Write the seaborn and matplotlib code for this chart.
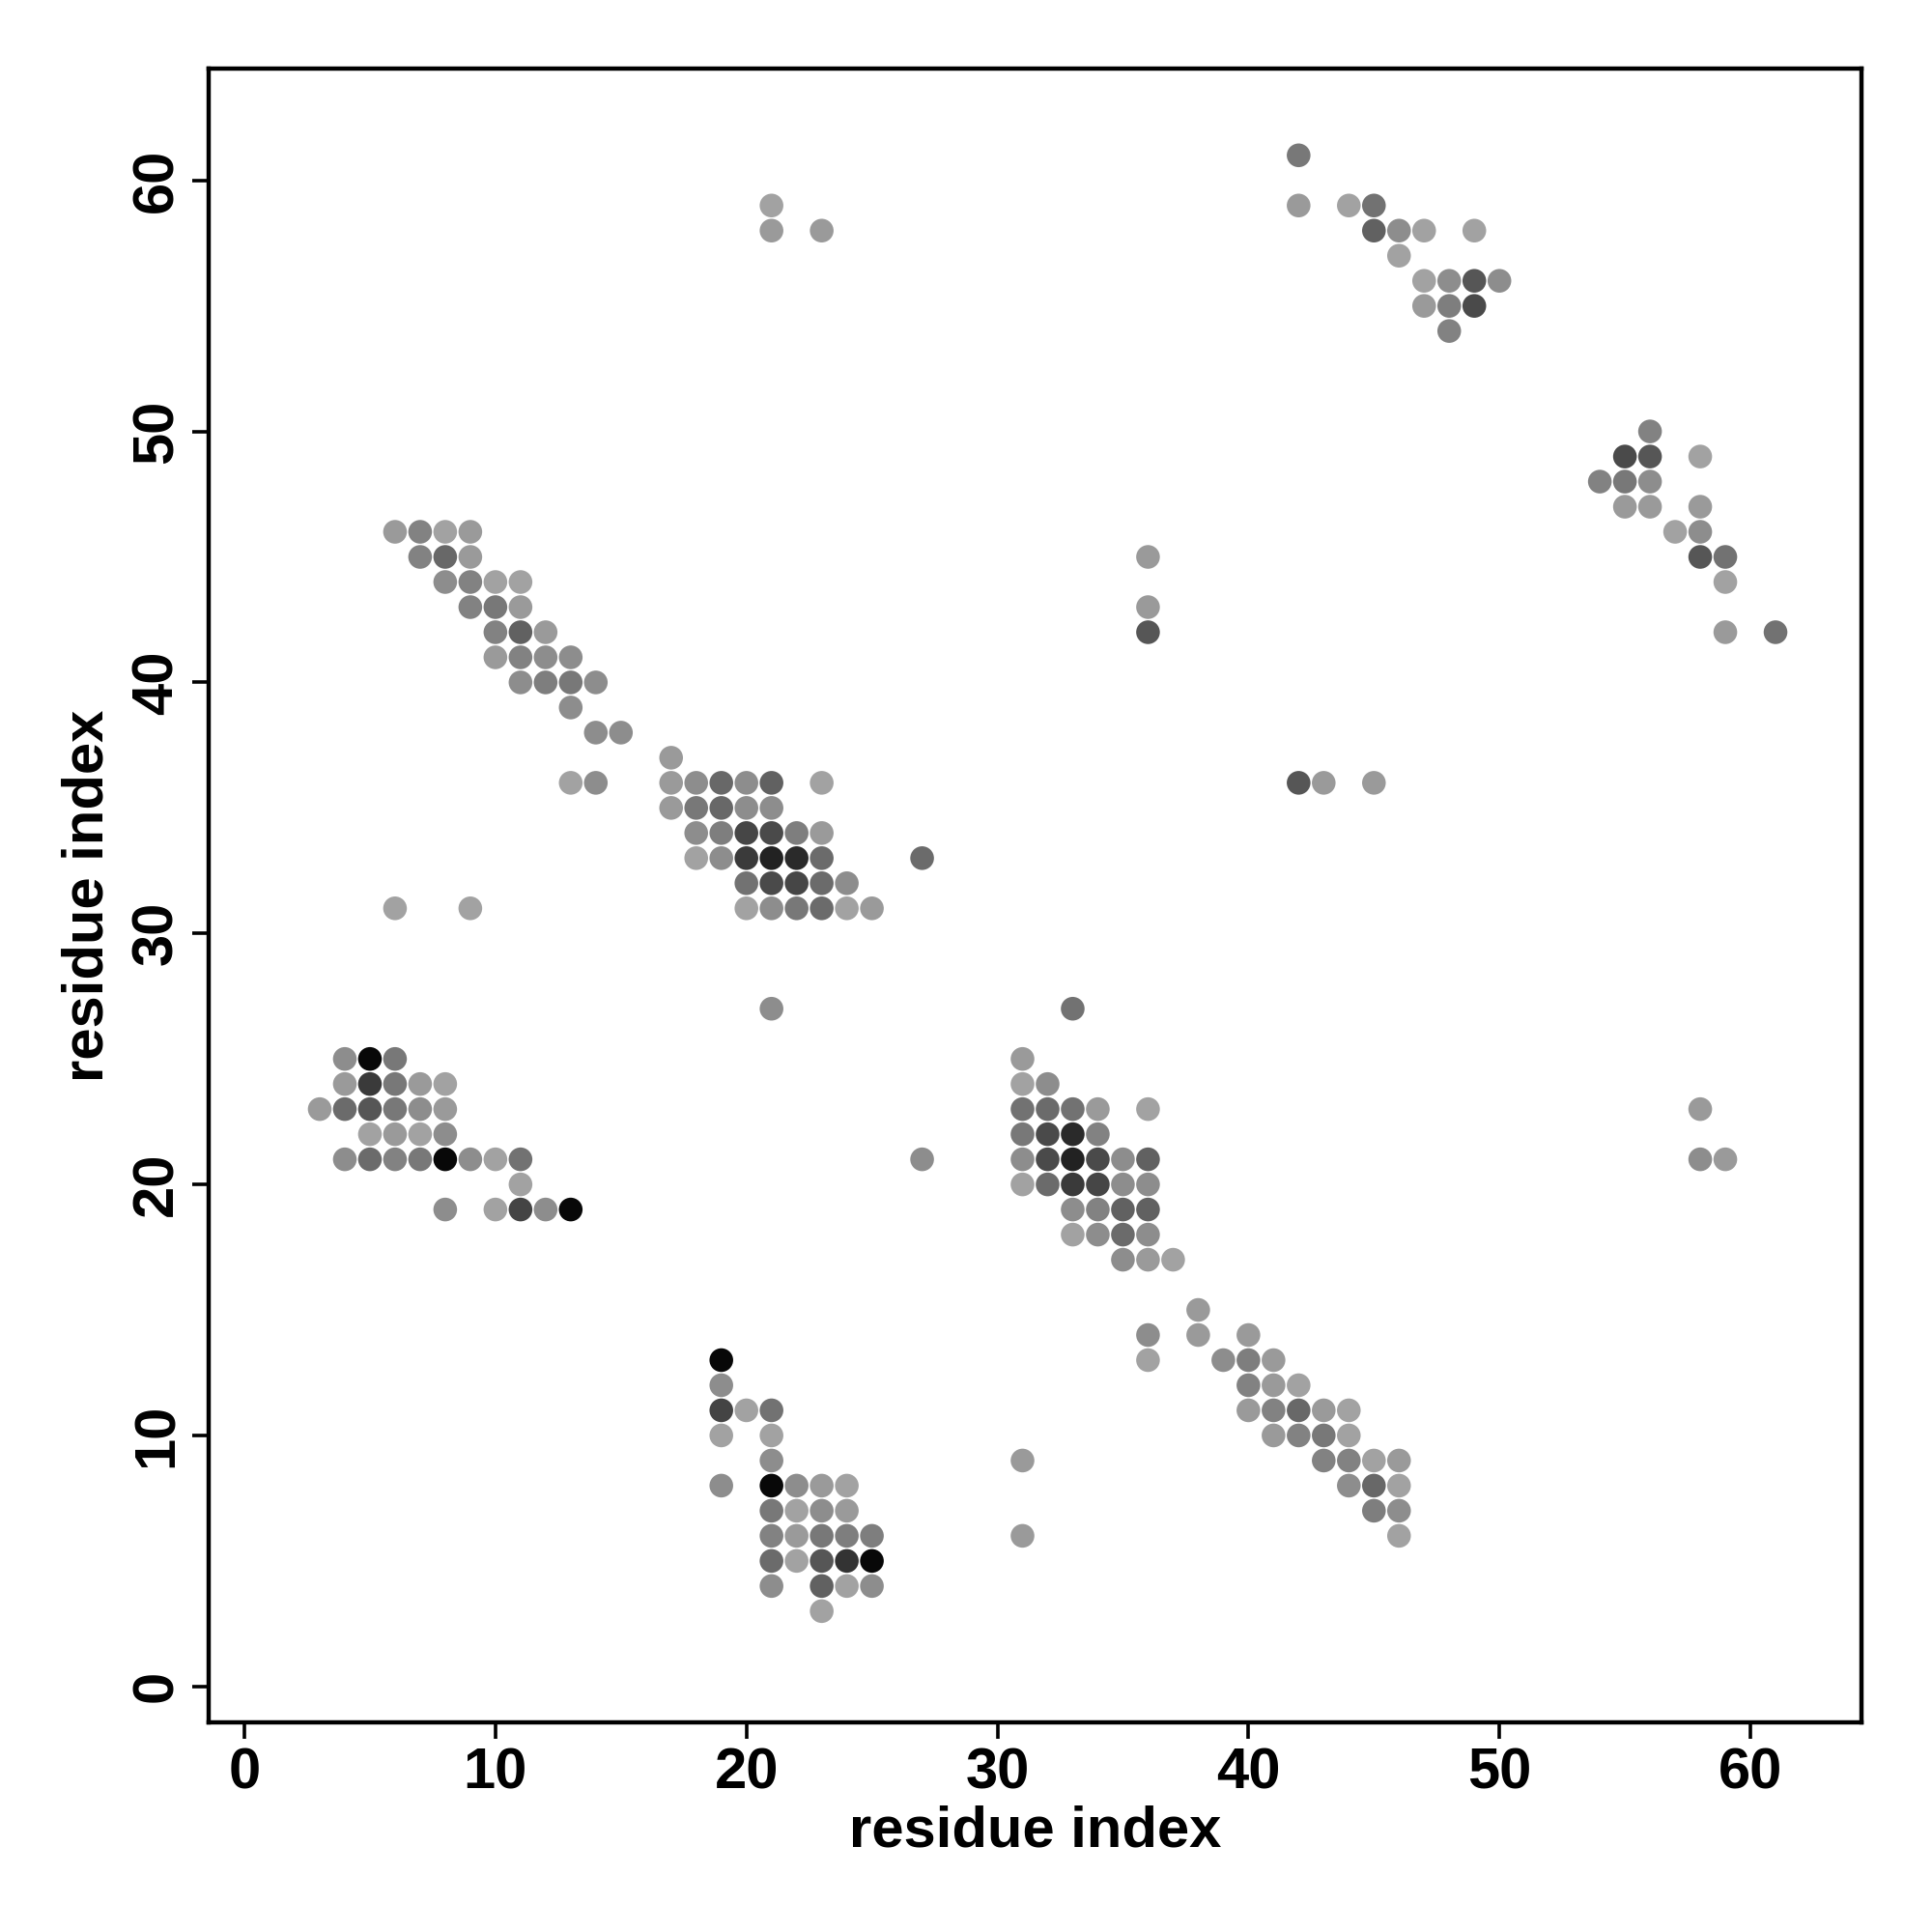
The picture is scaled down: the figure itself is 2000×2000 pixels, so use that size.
import numpy as np
import pandas as pd
import matplotlib
matplotlib.use('Agg')
import matplotlib.pyplot as plt
from matplotlib.colors import LinearSegmentedColormap
import seaborn as sns

# residue pairs (i on x, j on y) and contact probability (grey level)
res_i = [
    # block near (6, 22)
    4, 5, 6, 4, 5, 6, 7, 8, 3, 4, 5, 6, 7, 8, 5, 6, 7, 8,
    4, 5, 6, 7, 8, 9, 10, 11, 11, 8, 10, 11, 12, 13,
    # block near (22, 7)
    19, 19, 19, 20, 21, 19, 21, 21, 19, 21, 22, 23, 24, 21, 22, 23, 24,
    21, 22, 23, 24, 25, 21, 22, 23, 24, 25, 21, 23, 24, 25, 23,
    # block near (10, 42)
    6, 7, 8, 9, 7, 8, 9, 8, 9, 10, 11, 9, 10, 11, 10, 11, 12,
    10, 11, 12, 13, 11, 12, 13, 14, 13, 14, 15, 13, 14,
    # block near (21, 33)
    17, 17, 18, 19, 20, 21, 23, 17, 18, 19, 20, 21, 18, 19, 20, 21, 22, 23,
    18, 19, 20, 21, 22, 23, 27, 20, 21, 22, 23, 24, 20, 21, 22, 23, 24, 25, 21,
    # block near (33, 21)
    33, 31, 31, 32, 31, 32, 33, 34, 36, 31, 32, 33, 34,
    31, 32, 33, 34, 35, 36, 31, 32, 33, 34, 35, 36,
    33, 34, 35, 36, 33, 34, 35, 36, 35, 36, 37,
    # block near (42, 11)
    38, 36, 38, 40, 36, 39, 40, 41, 40, 41, 42, 40, 41, 42, 43, 44,
    41, 42, 43, 44, 43, 44, 45, 46, 44, 45, 46, 45, 46, 46,
    # block near (47, 57)
    42, 42, 44, 45, 45, 46, 47, 49, 46, 47, 48, 49, 50, 47, 48, 49, 48,
    # block near (57, 46)
    56, 55, 56, 58, 54, 55, 56, 55, 56, 58, 57, 58, 58, 59, 59, 59, 61,
    # isolated contacts
    21, 21, 23, 36, 36, 36, 42, 43, 45, 6, 9, 27, 58, 58, 59, 31, 31,
]
res_j = [
    25, 25, 25, 24, 24, 24, 24, 24, 23, 23, 23, 23, 23, 23, 22, 22, 22, 22,
    21, 21, 21, 21, 21, 21, 21, 21, 20, 19, 19, 19, 19, 19,
    13, 12, 11, 11, 11, 10, 10, 9, 8, 8, 8, 8, 8, 7, 7, 7, 7,
    6, 6, 6, 6, 6, 5, 5, 5, 5, 5, 4, 4, 4, 4, 3,
    46, 46, 46, 46, 45, 45, 45, 44, 44, 44, 44, 43, 43, 43, 42, 42, 42,
    41, 41, 41, 41, 40, 40, 40, 40, 39, 38, 38, 36, 36,
    37, 36, 36, 36, 36, 36, 36, 35, 35, 35, 35, 35, 34, 34, 34, 34, 34, 34,
    33, 33, 33, 33, 33, 33, 33, 32, 32, 32, 32, 32, 31, 31, 31, 31, 31, 31, 27,
    27, 25, 24, 24, 23, 23, 23, 23, 23, 22, 22, 22, 22,
    21, 21, 21, 21, 21, 21, 20, 20, 20, 20, 20, 20,
    19, 19, 19, 19, 18, 18, 18, 18, 17, 17, 17,
    15, 14, 14, 14, 13, 13, 13, 13, 12, 12, 12, 11, 11, 11, 11, 11,
    10, 10, 10, 10, 9, 9, 9, 9, 8, 8, 8, 7, 7, 6,
    61, 59, 59, 59, 58, 58, 58, 58, 57, 56, 56, 56, 56, 55, 55, 55, 54,
    50, 49, 49, 49, 48, 48, 48, 47, 47, 47, 46, 46, 45, 45, 44, 42, 42,
    59, 58, 58, 45, 43, 42, 36, 36, 36, 31, 31, 21, 23, 21, 21, 9, 6,
]
prob = [
    .13, .95, .26, .05, .64, .26, .05, .0, .05, .34, .47, .26, .13, .05, .0, .05, .0, .13,
    .13, .34, .2, .26, .95, .13, .0, .3, .0, .13, .0, .58, .13, .95,
    .95, .13, .58, .0, .3, .0, .0, .13, .13, .95, .13, .05, .0, .26, .0, .13, .05,
    .2, .05, .26, .22, .22, .34, .0, .47, .68, .95, .13, .4, .0, .13, .0,
    .05, .2, .0, .05, .2, .36, .05, .13, .2, .0, .0, .2, .26, .05, .2, .4, .05,
    .05, .2, .13, .13, .13, .22, .26, .13, .13, .13, .13, .0, .13,
    .05, .05, .13, .36, .13, .4, .0, .05, .26, .36, .13, .13, .13, .22, .57, .54, .22, .05,
    .0, .13, .64, .79, .74, .34, .34, .3, .54, .57, .34, .13, .0, .13, .26, .34, .0, .05, .13,
    .3, .05, .0, .13, .3, .34, .3, .05, .0, .26, .54, .74, .2,
    .13, .54, .79, .54, .13, .4, .0, .34, .64, .57, .13, .13,
    .13, .2, .4, .4, .0, .13, .34, .13, .13, .05, .0,
    .05, .13, .05, .05, .0, .13, .22, .05, .2, .05, .0, .05, .2, .36, .05, .0,
    .05, .2, .26, .0, .2, .2, .0, .05, .13, .36, .0, .22, .13, .0,
    .26, .05, .0, .3, .4, .13, .0, .0, .0, .0, .13, .47, .13, .05, .22, .54, .2,
    .2, .54, .47, .0, .2, .26, .13, .05, .05, .05, .0, .13, .47, .3, .0, .05, .3,
    .0, .05, .05, .05, .05, .47, .47, .05, .05, .0, .0, .13, .05, .13, .05, .05, .05,
]

ticks = [0, 10, 20, 30, 40, 50, 60]

df = pd.DataFrame({'i': res_i, 'j': res_j, 'p': prob})

sns.set_style('white')
plt.rcParams['font.family'] = ['Liberation Sans', 'DejaVu Sans']
plt.rcParams['font.weight'] = 'bold'
plt.rcParams['text.color'] = 'black'
plt.rcParams['axes.labelcolor'] = 'black'
plt.rcParams['xtick.color'] = 'black'
plt.rcParams['ytick.color'] = 'black'

greys = LinearSegmentedColormap.from_list('greys_r', ['#a2a2a2', '#000000'])

fig = plt.figure(figsize=(10, 10), dpi=200)
ax = fig.add_axes([0.1078, 0.1084, 0.8559, 0.8559])

sns.scatterplot(data=df, x='i', y='j', hue='p', palette=greys, hue_norm=(0, 1),
                s=78, linewidth=0, legend=False, ax=ax)

ax.set_xlim(-1.44, 64.44)
ax.set_ylim(-1.44, 64.44)
ax.set_xticks(ticks)
ax.set_yticks(ticks)
ax.set_xticklabels(ticks, fontsize=21.5, fontweight='bold')
ax.set_yticklabels(ticks, fontsize=21.5, fontweight='bold', rotation=90, va='center')
ax.tick_params(direction='out', length=6, width=1.3, color='black', pad=3,
               bottom=True, left=True, labelcolor='black')
ax.set_xlabel('residue index', fontsize=21.5, fontweight='bold', labelpad=2, color='black')
ax.set_ylabel('residue index', fontsize=21.5, fontweight='bold', labelpad=6, color='black')
for sp in ax.spines.values():
    sp.set_color('black')
    sp.set_linewidth(1.6)

fig.savefig('out.png', dpi=200, facecolor='white')
